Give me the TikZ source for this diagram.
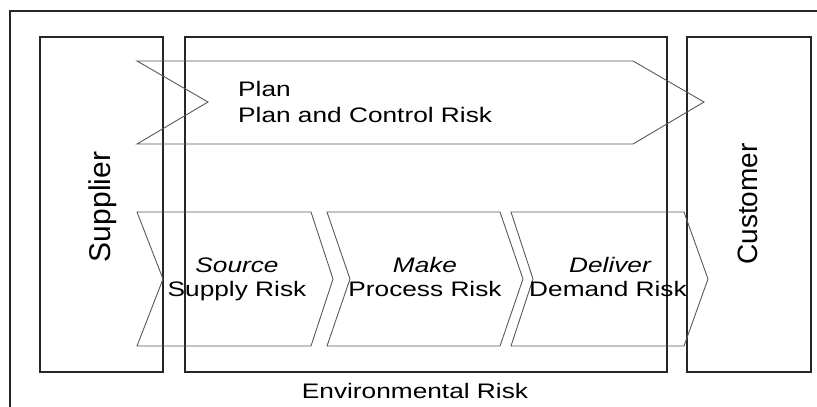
\documentclass[tikz,border=0pt]{standalone}
\usepackage{fontspec}
\usepackage{graphicx}
\setmainfont{Liberation Sans}
\newcommand\widetext[1]{\scalebox{1.25}[1]{#1}}
\begin{document}
\begin{tikzpicture}[x=1pt,y=-1pt,
  box/.style={draw=black!85, line width=1.3pt},
  chev/.style={draw=black!65, line width=0.9pt},
  lbl/.style={inner sep=0pt, anchor=base, font=\fontsize{21}{24}\selectfont},
  side/.style={inner sep=0pt, anchor=base, rotate=90}]
\useasboundingbox (0,0) rectangle (817,407);
\clip (0,0) rectangle (817,407);
% outer frame (runs off the right and bottom edges)
\draw[box] (10,11) rectangle (840,430);
% boxes
\draw[box] (40,37) rectangle (163,372);
\draw[box] (185,37) rectangle (667,372);
\draw[box] (687,37) rectangle (811,372);
% plan arrow
\draw[chev] (137,61) -- (633,61) -- (704,102) -- (633,144) -- (137,144) -- (208,102) -- cycle;
% process chevrons
\draw[chev] (137,212) -- (311,212) -- (333,279) -- (311,346) -- (137,346) -- (163,279) -- cycle;
\draw[chev] (327,212) -- (500,212) -- (523,279) -- (500,346) -- (327,346) -- (350,279) -- cycle;
\draw[chev] (511,212) -- (684,212) -- (708,279) -- (684,346) -- (511,346) -- (533,279) -- cycle;
% texts
\node[lbl, anchor=base west] (plan) at (238,96) {\widetext{Plan}};
\node[lbl, anchor=base west] (planrisk) at (238,122) {\widetext{Plan and Control Risk}};
\node[lbl] (source) at (237,272) {\widetext{\itshape Source}};
\node[lbl] (supplyrisk) at (237,296) {\widetext{Supply Risk}};
\node[lbl] (make) at (425,272) {\widetext{\itshape Make}};
\node[lbl] (processrisk) at (425,296) {\widetext{Process Risk}};
\node[lbl] (deliver) at (610,272) {\widetext{\itshape Deliver}};
\node[lbl] (demandrisk) at (608,296) {\widetext{Demand Risk}};
\node[lbl] (env) at (415,398) {\widetext{Environmental Risk}};
\node[side, font=\fontsize{30}{34}\selectfont] (supplier) at (110,207) {Supplier};
\node[side, font=\fontsize{28}{32}\selectfont] (customer) at (757,204) {Customer};
\end{tikzpicture}
\end{document}
